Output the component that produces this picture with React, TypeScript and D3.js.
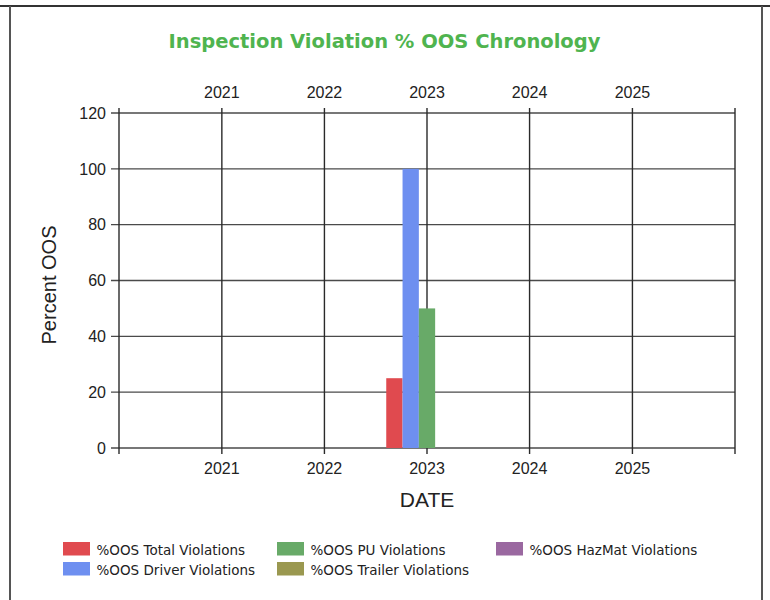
import React from "react";
import * as d3 from "d3";

const seriesNames = [
  "%OOS Total Violations",
  "%OOS Driver Violations",
  "%OOS PU Violations",
  "%OOS Trailer Violations",
  "%OOS HazMat Violations",
];
const seriesColors = ["#e04a4f", "#6e8ff0", "#68aa68", "#9a9850", "#9a68a0"];
const barDates = ["2023-01-01"];
const totalValues = [25];
const driverValues = [100];
const puValues = [50];
const trailerValues = [0];
const hazmatValues = [0];
const yTicks = [0, 20, 40, 60, 80, 100, 120];
const yearTicks = [2021, 2022, 2023, 2024, 2025];
const xDomainYears = [2020, 2026];

const W = 770;
const H = 600;
const M = { left: 119, right: 735, top: 113, bottom: 448 };

export default function App() {
  const x = d3
    .scaleTime()
    .domain([new Date(xDomainYears[0], 0, 1), new Date(xDomainYears[1], 0, 1)])
    .range([M.left, M.right]);
  const y = d3.scaleLinear().domain([0, 120]).range([M.bottom, M.top]);
  const allSeries = [totalValues, driverValues, puValues, trailerValues, hazmatValues];
  const groupW = 81.5;
  const inner = d3
    .scaleBand<number>()
    .domain(d3.range(seriesNames.length))
    .range([-groupW / 2, groupW / 2])
    .padding(0);

  const parse = d3.timeParse("%Y-%m-%d");
  const tickFont = "'Liberation Sans', Arial, sans-serif";
  const gridColor = "#4a4a4a";

  return (
    <svg
      width={W}
      height={H}
      style={{ position: "absolute", left: 0, top: 0, background: "#fff" }}
    >
      {/* outer frame */}
      <line x1={0} x2={W} y1={6} y2={6} stroke="#333" strokeWidth={2} />
      <line x1={10} x2={10} y1={6} y2={H} stroke="#555" strokeWidth={2} />
      <line x1={762} x2={762} y1={6} y2={H} stroke="#555" strokeWidth={2} />

      {/* title */}
      <text
        x={384.5}
        y={48}
        textAnchor="middle"
        fontFamily="'DejaVu Sans', sans-serif"
        fontWeight="bold"
        fontSize={19.5}
        fill="#4fb44f"
      >
        Inspection Violation % OOS Chronology
      </text>

      {/* horizontal grid + y ticks */}
      {yTicks.map((t) => (
        <g key={"y" + t}>
          <line x1={M.left - 8} x2={M.right} y1={y(t)} y2={y(t)} stroke={gridColor} strokeWidth={1.4} />
          <text
            x={106}
            y={y(t)}
            dy="0.36em"
            textAnchor="end"
            fontFamily={tickFont}
            fontSize={16}
            fill="#222"
          >
            {t}
          </text>
        </g>
      ))}

      {/* vertical grid lines incl. edges */}
      {[xDomainYears[0], ...yearTicks, xDomainYears[1]].map((yr) => {
        const xx = x(new Date(yr, 0, 1));
        return (
          <line key={"v" + yr} x1={xx} x2={xx} y1={M.top - 5} y2={M.bottom + 6} stroke="#2a2a2a" strokeWidth={1.4} />
        );
      })}

      {/* year labels top and bottom */}
      {yearTicks.map((yr) => {
        const xx = x(new Date(yr, 0, 1));
        return (
          <g key={"l" + yr}>
            <text x={xx} y={98} textAnchor="middle" fontFamily={tickFont} fontSize={16} fill="#222">
              {yr}
            </text>
            <text x={xx} y={474} textAnchor="middle" fontFamily={tickFont} fontSize={16} fill="#222">
              {yr}
            </text>
          </g>
        );
      })}

      {/* bars */}
      {barDates.map((ds, i) => {
        const cx = x(parse(ds) as Date);
        return (
          <g key={"b" + ds}>
            {allSeries.map((vals, s) => {
              const v = vals[i];
              if (!v) return null;
              return (
                <rect
                  key={s}
                  x={cx + (inner(s) as number)}
                  width={inner.bandwidth()}
                  y={y(v)}
                  height={y(0) - y(v)}
                  fill={seriesColors[s]}
                />
              );
            })}
          </g>
        );
      })}

      {/* axis titles */}
      <text
        transform={`translate(56,285) rotate(-90)`}
        textAnchor="middle"
        fontFamily={tickFont}
        fontSize={20}
        fill="#222"
      >
        Percent OOS
      </text>
      <text x={427} y={507} textAnchor="middle" fontFamily={tickFont} fontSize={21} fill="#222">
        DATE
      </text>

      {/* legend */}
      {seriesNames.map((name, s) => {
        const col = Math.floor(s / 2);
        const row = s % 2;
        const colX = [63, 277, 496][col];
        const yy = 542 + row * 20;
        return (
          <g key={"lg" + s}>
            <rect x={colX} y={yy} width={27} height={13.5} fill={seriesColors[s]} />
            <text
              x={colX + 33.5}
              y={yy + 12.5}
              fontFamily="'DejaVu Sans', sans-serif"
              fontSize={13.5}
              fill="#222"
            >
              {name}
            </text>
          </g>
        );
      })}
    </svg>
  );
}
